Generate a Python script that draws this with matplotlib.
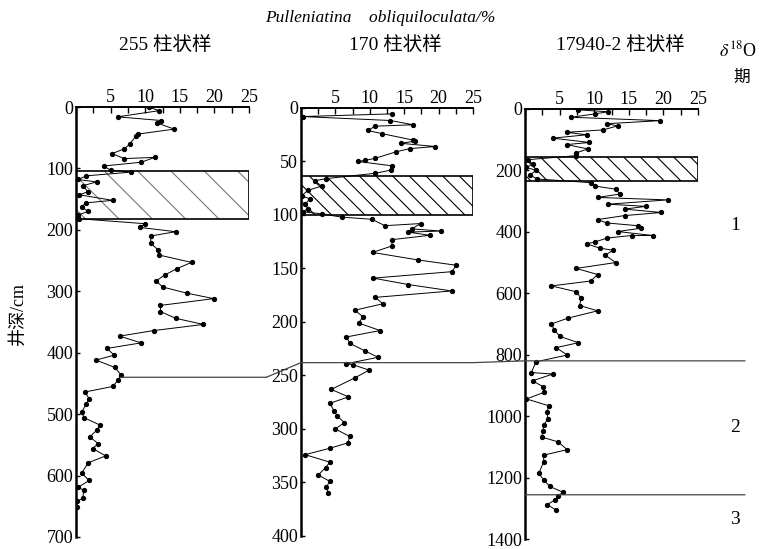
import matplotlib
matplotlib.use("Agg")
import matplotlib.pyplot as plt
from matplotlib.patches import ConnectionPatch
from matplotlib.ticker import MultipleLocator

plt.rcParams['font.family'] = ['Liberation Serif', 'Noto Sans CJK SC']
plt.rcParams['mathtext.fontset'] = 'stix'
plt.rcParams['hatch.linewidth'] = 0.8

# 255 core: P. obliquiloculata %, depth cm
v255 = [10.5, 12, 6, 12.3, 11.7, 14.2, 9, 8.6, 7.8, 7, 5.2, 7, 11.4, 9.4, 4, 5, 8,
        1.5, 0.3, 3, 1, 1.7, 0.5, 5.3, 1.5, 0.8, 1.7, 0.3, 0.5,
        10, 9.2, 14.4, 10.8, 10.8, 11.9, 12, 16.7, 14.6, 12.9, 11.6, 12.5, 16, 19.9,
        12.2, 12.2, 14.4, 18.4, 11.2, 6.3, 9.4, 4.5, 5.5, 2.9, 5.6, 6.5, 6.1, 5.3,
        1.3, 1.9, 1.5, 0.8, 1.2, 3.5, 3, 2, 3.2, 2.4, 4.3, 1.8, 0.8, 1.9, 0.3, 1.1,
        1, 0.1, 0.1]
d255 = [0, 6, 16, 22, 26, 36, 44, 48, 60, 68, 76, 84, 82, 90, 96, 103, 106,
        112, 118, 122, 128, 138, 143, 152, 156, 162, 170, 176, 182,
        190, 196, 203, 210, 222, 233, 241, 253, 263, 273, 283, 293, 303, 312,
        323, 333, 344, 354, 364, 373, 384, 393, 404, 412, 424, 436, 444, 455,
        464, 475, 483, 497, 506, 518, 526, 537, 548, 556, 568, 579, 596, 608, 619, 624,
        637, 642, 651]

# 170 core
v170 = [13.2, 0.3, 13, 16.3, 10.8, 9.7, 11.8, 16.3, 16.6, 14.5, 19.5, 15.8, 13.8,
        10.8, 9.3, 8.3, 13.2, 13.1, 10.8,
        3.7, 2, 3, 1, 0.1, 1.3, 0.6, 1, 0.3, 3.1,
        5.9, 10.3, 12.2, 17.4, 16.1, 20.4, 15.6, 18.7, 13.3, 13.2, 10.4, 17, 22.6,
        21.9, 10.5, 15.6, 21.9, 10.8, 11.9, 7.8, 9, 8.4, 11.5, 6.6, 7.1, 9.3, 11.2,
        6.6, 7.6, 9.9, 7.9, 4.4, 6.9, 4.2, 4.8, 5.3, 6.3, 5, 7.1, 6.8, 4.2, 0.6,
        4.2, 3.6, 2.5, 4.2, 3.7, 4]
d170 = [5.5, 8, 11.7, 15.7, 17, 21, 24, 30, 31, 33, 36, 38, 41,
        47, 49, 50, 54, 58, 61,
        66, 68, 73, 77, 82, 85, 90, 94, 97, 99,
        102, 104, 110, 108, 113, 115, 116, 119, 123, 129, 135, 142, 147,
        153, 159, 165, 171, 177, 183, 189, 195, 201, 208, 214, 220, 227, 233,
        239, 240, 245, 252, 263, 270, 276, 283, 288, 294, 300, 307, 313, 318, 324,
        331, 336, 343, 349, 354, 360]

# 17940-2 core
v179 = [7.7, 12, 10.1, 6.7, 19.5, 11.8, 13.4, 11.3, 6, 8.9, 4, 9.3, 6, 9.1, 7.4, 7.4,
        0.4, 1.1, 0.2, 1.6, 0.7, 1.8,
        9.6, 10.1, 13.1, 13.7, 10.5, 20.6, 12, 17.5, 14.4, 19.7, 14.4, 10.5, 11.8,
        16.3, 16.8, 13.4, 18.5, 15.4, 11.9, 10.1, 8.9, 10.8, 12.7, 11.6, 13.1, 7.4,
        10.5, 9.5, 3.8, 7.4, 8.1, 7.9, 10.5, 6.2, 3.8, 4.2, 5, 7.7, 4.5, 6.1,
        1.6, 0.9, 4, 1.1, 2.6, 2.7, 0.2, 3.4, 3.2, 3.3, 2.7, 2.6, 2.4, 4.8, 6.1,
        2.7, 2.7, 2, 2.7, 3.6, 5.5, 4.7, 4.4, 3.2, 4.5]
d179 = [3, 9, 16, 27, 38, 48, 55, 68, 76, 84, 95, 109, 116, 130, 143, 152,
        165, 180, 190, 200, 215, 228,
        240, 251, 261, 277, 288, 296, 310, 317, 326, 337, 347, 360, 371,
        380, 388, 399, 412, 412, 420, 433, 439, 453, 460, 476, 500, 519,
        539, 560, 576, 595, 616, 640, 657, 681, 700, 718, 740, 761, 777, 801,
        823, 858, 863, 885, 904, 923, 944, 966, 987, 1009, 1030, 1048, 1068, 1084, 1109,
        1127, 1148, 1186, 1208, 1229, 1248, 1261, 1272, 1288, 1306]

cores = ["255 柱状样", "170 柱状样", "17940-2 柱状样"]
depth_max = [700, 400, 1400]
depth_step = [100, 50, 200]
box_top = [104, 64, 157]
box_bot = [183, 100, 234]
stages = ["1", "2", "3"]

fig = plt.figure(figsize=(7.61, 5.49), dpi=100)
pos = [[0.0999, 0.0219, 0.2273, 0.7832],
       [0.3955, 0.0237, 0.2260, 0.7796],
       [0.6899, 0.0182, 0.2273, 0.7833]]
data = [(v255, d255), (v170, d170), (v179, d179)]
hatches = ['\\', '\\\\', '\\\\']
hcolors = ['#777777', 'black', 'black']
axes = []
for i in range(3):
    ax = fig.add_axes(pos[i])
    v, d = data[i]
    ax.plot(v, d, color='black', lw=0.7, marker='o', ms=2.8, zorder=3)
    ax.axhspan(box_top[i], box_bot[i], fill=False, hatch=hatches[i], edgecolor=hcolors[i],
               lw=0, zorder=2)
    ax.axhspan(box_top[i], box_bot[i], fill=False, edgecolor='black', lw=1.2, zorder=2)
    ax.set_xlim(0, 25)
    ax.set_ylim(depth_max[i], 0)
    ax.xaxis.tick_top()
    ax.set_xticks([5, 10, 15, 20, 25])
    ax.xaxis.set_minor_locator(MultipleLocator(2.5))
    ax.yaxis.set_major_locator(MultipleLocator(depth_step[i]))
    ax.tick_params(axis='x', which='both', direction='in', length=4, width=1, labelsize=13, pad=1)
    ax.tick_params(axis='y', direction='in', length=3, width=1, labelsize=13, pad=2)
    ax.spines['right'].set_visible(False)
    ax.spines['bottom'].set_visible(False)
    ax.spines['left'].set_linewidth(1.8)
    ax.spines['top'].set_linewidth(1.4)
    ax.patch.set_alpha(0)
    axes.append(ax)

ax1, ax2, ax3 = axes
ax1.set_ylabel("井深/cm", fontsize=13)
ax1.yaxis.set_label_coords(-0.285, 0.52)

# correlation lines between cores
lc = '#444444'
segs = [((6.4, 440), ax1, (27.5, 440), ax1),
        ((27.5, 440), ax1, (0, 238), ax2),
        ((0, 238), ax2, (25, 238), ax2),
        ((25, 238), ax2, (0, 820), ax3),
        ((0, 820), ax3, (31.8, 820), ax3),
        ((0, 1256), ax3, (31.8, 1256), ax3)]
for a, axa, b, axb in segs:
    cp = ConnectionPatch(xyA=a, coordsA=axa.transData, xyB=b, coordsB=axb.transData,
                         color=lc, lw=0.9)
    fig.add_artist(cp)

fig.text(0.5, 0.967, "Pulleniatina    obliquiloculata/%", ha='center', va='center',
         style='italic', fontsize=12.5)
tx = [0.217, 0.519, 0.815]
for i in range(3):
    fig.text(tx[i], 0.918, cores[i], ha='center', va='center', fontsize=14)
fig.text(0.970, 0.909, r"$\delta^{18}$O", ha='center', va='center', fontsize=13)
fig.text(0.975, 0.858, "期", ha='center', va='center', fontsize=12)
sy = [0.590, 0.222, 0.053]
for i in range(3):
    fig.text(0.966, sy[i], stages[i], ha='center', va='center', fontsize=14)

fig.savefig("out.png", dpi=100)
